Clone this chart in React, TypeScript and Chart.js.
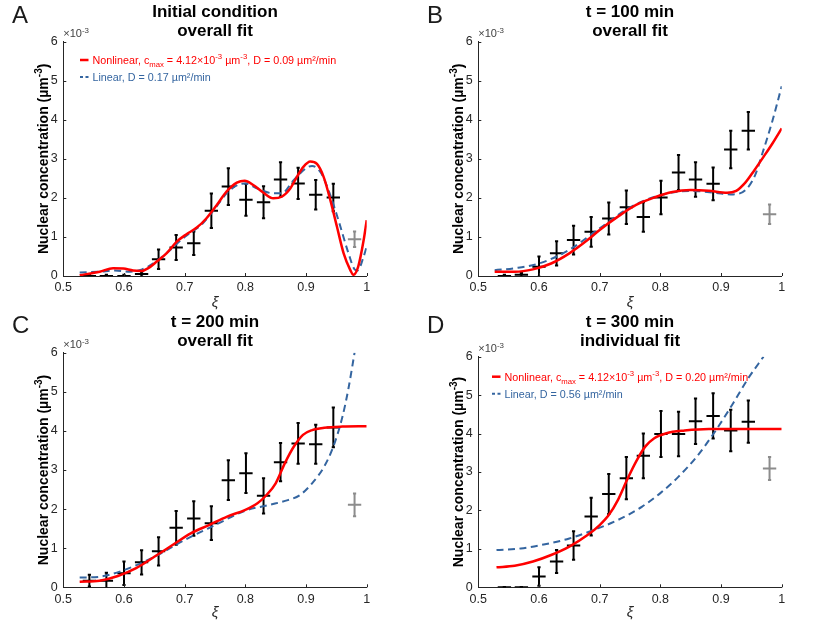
import React, { useEffect, useRef } from 'react';
import { Chart, registerables } from 'chart.js';

Chart.register(...registerables);

// positions of the binned data (xi) shared by all panels
const xiCenters = [0.543, 0.571, 0.6, 0.629, 0.657, 0.686, 0.715, 0.744, 0.772, 0.801, 0.83, 0.858, 0.887, 0.916, 0.945];
const xiExcluded = 0.98;
const xiHalfWidth = 0.011;

const xTicks = [0.5, 0.6, 0.7, 0.8, 0.9, 1];
const yTicks = [0, 1, 2, 3, 4, 5, 6];

// A: initial condition (values in units of 1e-3 um^-3)
const meanA = [0, 0, 0, 0.05, 0.43, 0.73, 0.84, 1.67, 2.29, 1.95, 1.89, 2.47, 2.37, 2.08, 2.01];
const errA = [0.03, 0.03, 0.03, 0.06, 0.25, 0.32, 0.3, 0.44, 0.47, 0.41, 0.41, 0.44, 0.4, 0.38, 0.35];
const excludedA = 0.94;
const excludedErrA = 0.2;
const nonlinXA = [0.527, 0.56, 0.582, 0.599, 0.615, 0.629, 0.64, 0.654, 0.67, 0.687, 0.703, 0.72, 0.736, 0.753, 0.769, 0.786, 0.799, 0.813, 0.83, 0.846, 0.86, 0.874, 0.885, 0.896, 0.907, 0.918, 0.929, 0.94, 0.951, 0.962, 0.973, 0.978, 0.986, 0.995, 1];
const nonlinYA = [0.02, 0.11, 0.2, 0.19, 0.14, 0.13, 0.2, 0.37, 0.58, 0.88, 1.07, 1.24, 1.48, 1.82, 2.16, 2.39, 2.44, 2.33, 2.13, 1.99, 2.03, 2.24, 2.54, 2.8, 2.93, 2.87, 2.54, 1.95, 1.26, 0.58, 0.15, 0.03, 0.24, 0.92, 1.43];
const linXA = [0.527, 0.56, 0.585, 0.61, 0.63, 0.65, 0.67, 0.7, 0.73, 0.75, 0.77, 0.79, 0.8, 0.82, 0.845, 0.86, 0.88, 0.9, 0.91, 0.925, 0.94, 0.955, 0.97, 0.98, 0.985, 0.995, 1];
const linYA = [0.09, 0.11, 0.14, 0.11, 0.17, 0.34, 0.58, 1.0, 1.35, 1.73, 2.13, 2.35, 2.37, 2.24, 2.12, 2.12, 2.46, 2.76, 2.82, 2.63, 2.07, 1.35, 0.58, 0.17, 0.14, 0.5, 0.75];

// B: t = 100 min
const meanB = [0, 0.03, 0.24, 0.58, 0.92, 1.13, 1.47, 1.76, 1.51, 2.01, 2.65, 2.47, 2.36, 3.24, 3.72];
const errB = [0.03, 0.05, 0.26, 0.31, 0.37, 0.38, 0.41, 0.43, 0.38, 0.43, 0.45, 0.44, 0.42, 0.48, 0.48];
const excludedB = 1.58;
const excludedErrB = 0.25;
const nonlinXB = [0.527, 0.56, 0.59, 0.62, 0.65, 0.68, 0.7, 0.73, 0.76, 0.79, 0.82, 0.85, 0.88, 0.91, 0.925, 0.94, 0.955, 0.97, 0.985, 1];
const nonlinYB = [0.11, 0.11, 0.17, 0.32, 0.58, 0.92, 1.18, 1.52, 1.82, 2.01, 2.15, 2.2, 2.18, 2.13, 2.18, 2.39, 2.71, 3.05, 3.4, 3.78];
const linXB = [0.527, 0.56, 0.6, 0.65, 0.7, 0.75, 0.8, 0.85, 0.89, 0.92, 0.94, 0.955, 0.97, 0.985, 1];
const linYB = [0.15, 0.2, 0.32, 0.67, 1.22, 1.76, 2.07, 2.18, 2.13, 2.09, 2.2, 2.54, 3.23, 3.99, 4.86];

// C: t = 200 min
const meanC = [0.17, 0.17, 0.36, 0.64, 0.92, 1.52, 1.76, 1.64, 2.74, 2.92, 2.34, 3.2, 3.68, 3.66, 4.09];
const errC = [0.15, 0.2, 0.3, 0.31, 0.36, 0.43, 0.44, 0.43, 0.51, 0.51, 0.45, 0.49, 0.52, 0.5, 0.51];
const excludedC = 2.11;
const excludedErrC = 0.29;
const nonlinXC = [0.527, 0.56, 0.59, 0.62, 0.65, 0.68, 0.71, 0.74, 0.77, 0.8, 0.82, 0.835, 0.85, 0.865, 0.88, 0.895, 0.91, 0.93, 0.96, 1];
const nonlinYC = [0.14, 0.17, 0.29, 0.49, 0.78, 1.08, 1.38, 1.59, 1.81, 1.98, 2.15, 2.36, 2.66, 3.17, 3.6, 3.9, 4.02, 4.08, 4.11, 4.12];
const linXC = [0.527, 0.56, 0.6, 0.65, 0.7, 0.75, 0.8, 0.84, 0.87, 0.89, 0.91, 0.93, 0.945, 0.96, 0.97, 0.98];
const linYC = [0.25, 0.27, 0.44, 0.78, 1.21, 1.59, 1.96, 2.11, 2.23, 2.36, 2.66, 3.09, 3.6, 4.36, 5.09, 6.0];

// D: t = 300 min, individual fit
const meanD = [0, 0, 0.28, 0.67, 1.09, 1.84, 2.43, 2.84, 3.42, 3.99, 3.99, 4.32, 4.46, 4.08, 4.31];
const errD = [0, 0, 0.24, 0.3, 0.37, 0.49, 0.52, 0.55, 0.58, 0.6, 0.58, 0.59, 0.59, 0.54, 0.55];
const excludedD = 3.09;
const excludedErrD = 0.3;
const nonlinXD = [0.53, 0.56, 0.59, 0.62, 0.65, 0.68, 0.7, 0.715, 0.73, 0.745, 0.76, 0.775, 0.79, 0.81, 0.84, 0.88, 1];
const nonlinYD = [0.52, 0.56, 0.67, 0.84, 1.06, 1.36, 1.62, 1.88, 2.27, 2.79, 3.27, 3.66, 3.88, 4.01, 4.08, 4.12, 4.12];
const linXD = [0.53, 0.57, 0.61, 0.65, 0.69, 0.73, 0.77, 0.8, 0.83, 0.86, 0.89, 0.92, 0.945, 0.97];
const linYD = [0.97, 1.01, 1.12, 1.27, 1.49, 1.75, 2.1, 2.45, 2.88, 3.4, 4.05, 4.79, 5.44, 6.0];

const RED = '#ff0000';
const BLUE = '#3465a0';
const GRAY = '#8c8c8c';
const AXIS = '#262626';
const FONT = '"Liberation Sans", Arial, sans-serif';

type Seg = { t: string; k?: 'sup' | 'sub' };

interface LegendSpec {
  x: number; // offset of the line sample from the y axis
  y: number; // offset of the first row from the top of the axes
  nonlin: Seg[];
  lin: Seg[];
}

interface PanelSpec {
  letter: string;
  title: string[];
  px: number;
  py: number;
  w: number;
  h: number;
  left: number;
  right: number;
  top: number;
  bottom: number;
  mean: number[];
  err: number[];
  excluded: number;
  excludedErr: number;
  nonlinX: number[];
  nonlinY: number[];
  linX: number[];
  linY: number[];
  legend?: LegendSpec;
}

function legendText(cmax: string, dNonlin: string, dLin: string) {
  const nonlin: Seg[] = [
    { t: 'Nonlinear, c' },
    { t: 'max', k: 'sub' },
    { t: ' = ' + cmax + '×10' },
    { t: '-3', k: 'sup' },
    { t: ' µm' },
    { t: '-3', k: 'sup' },
    { t: ', D = ' + dNonlin + ' µm²/min' },
  ];
  const lin: Seg[] = [{ t: 'Linear, D = ' + dLin + ' µm²/min' }];
  return { nonlin, lin };
}

function drawRich(ctx: CanvasRenderingContext2D, segs: Seg[], x: number, y: number, size: number, weight = 'normal') {
  let cx = x;
  for (const s of segs) {
    const sz = s.k ? size * 0.72 : size;
    ctx.font = `${weight} ${sz}px ${FONT}`;
    const dy = s.k === 'sup' ? -size * 0.42 : s.k === 'sub' ? size * 0.3 : 0;
    ctx.fillText(s.t, cx, y + dy);
    cx += ctx.measureText(s.t).width;
  }
  return cx - x;
}

function measureRich(ctx: CanvasRenderingContext2D, segs: Seg[], size: number, weight = 'normal') {
  let w = 0;
  for (const s of segs) {
    ctx.font = `${weight} ${s.k ? size * 0.72 : size}px ${FONT}`;
    w += ctx.measureText(s.t).width;
  }
  return w;
}

// error bars as line segments separated by gaps
function verticalBars(xs: number[], ys: number[], es: number[]) {
  const pts: { x: number; y: number | null }[] = [];
  xs.forEach((x, i) => {
    pts.push({ x, y: ys[i] - es[i] }, { x, y: ys[i] + es[i] }, { x, y: null });
  });
  return pts;
}

function horizontalBars(xs: number[], ys: number[]) {
  const pts: { x: number; y: number | null }[] = [];
  xs.forEach((x, i) => {
    pts.push({ x: x - xiHalfWidth, y: ys[i] }, { x: x + xiHalfWidth, y: ys[i] }, { x: x + xiHalfWidth, y: null });
  });
  return pts;
}

function zip(xs: number[], ys: number[]) {
  return xs.map((x, i) => ({ x, y: ys[i] }));
}

const legA = legendText('4.12', '0.09', '0.17');
const legD = legendText('4.12', '0.20', '0.56');

const panels: PanelSpec[] = [
  {
    letter: 'A', title: ['Initial condition', 'overall fit'],
    px: 0, py: 0, w: 415, h: 310, left: 63.3, right: 366.7, top: 41.7, bottom: 276,
    mean: meanA, err: errA, excluded: excludedA, excludedErr: excludedErrA,
    nonlinX: nonlinXA, nonlinY: nonlinYA, linX: linXA, linY: linYA,
    legend: { x: 16.7, y: 18.3, ...legA },
  },
  {
    letter: 'B', title: ['t = 100 min', 'overall fit'],
    px: 415, py: 0, w: 415, h: 310, left: 63.3, right: 366.7, top: 41.7, bottom: 276,
    mean: meanB, err: errB, excluded: excludedB, excludedErr: excludedErrB,
    nonlinX: nonlinXB, nonlinY: nonlinYB, linX: linXB, linY: linYB,
  },
  {
    letter: 'C', title: ['t = 200 min', 'overall fit'],
    px: 0, py: 310, w: 415, h: 313, left: 63.3, right: 366.7, top: 42.7, bottom: 277.3,
    mean: meanC, err: errC, excluded: excludedC, excludedErr: excludedErrC,
    nonlinX: nonlinXC, nonlinY: nonlinYC, linX: linXC, linY: linYC,
  },
  {
    letter: 'D', title: ['t = 300 min', 'individual fit'],
    px: 415, py: 310, w: 415, h: 313, left: 63.3, right: 366.7, top: 46.7, bottom: 277.3,
    mean: meanD, err: errD, excluded: excludedD, excludedErr: excludedErrD,
    nonlinX: nonlinXD, nonlinY: nonlinYD, linX: linXD, linY: linYD,
    legend: { x: 13.7, y: 20, ...legD },
  },
];

function Panel({ spec }: { spec: PanelSpec }) {
  const canvasRef = useRef<HTMLCanvasElement>(null);

  useEffect(() => {
    if (!canvasRef.current) return;
    const ctx = canvasRef.current.getContext('2d');
    if (!ctx) return;

    const decor = {
      id: 'decor',
      afterDraw(chart: Chart) {
        const c = chart.ctx;
        const area = chart.chartArea;
        const xs = chart.scales.x;
        const ys = chart.scales.y;
        const cx = (area.left + area.right) / 2;
        c.save();

        // inward tick marks
        c.strokeStyle = AXIS;
        c.lineWidth = 1;
        c.beginPath();
        xTicks.forEach(v => {
          const p = Math.round(xs.getPixelForValue(v)) + 0.5;
          c.moveTo(p, area.bottom);
          c.lineTo(p, area.bottom - 3);
        });
        yTicks.forEach(v => {
          const p = Math.round(ys.getPixelForValue(v)) + 0.5;
          c.moveTo(area.left, p);
          c.lineTo(area.left + 3, p);
        });
        c.stroke();

        // panel letter
        c.fillStyle = '#1a1a1a';
        c.textAlign = 'left';
        c.textBaseline = 'alphabetic';
        c.font = `normal 24px ${FONT}`;
        c.fillText(spec.letter, 12, 23);

        // title
        c.fillStyle = '#000';
        c.textAlign = 'center';
        c.font = `bold 17px ${FONT}`;
        c.fillText(spec.title[0], cx, 16.5);
        c.fillText(spec.title[1], cx, 35.5);

        // exponent label
        c.textAlign = 'left';
        c.fillStyle = '#404040';
        drawRich(c, [{ t: '×10' }, { t: '-3', k: 'sup' }], area.left, area.top - 4.4, 11);

        // y axis title
        const ySegs: Seg[] = [{ t: 'Nuclear concentration (µm' }, { t: '-3', k: 'sup' }, { t: ')' }];
        c.save();
        c.translate(48, (area.top + area.bottom) / 2);
        c.rotate(-Math.PI / 2);
        c.fillStyle = '#000';
        const yw = measureRich(c, ySegs, 14, 'bold');
        drawRich(c, ySegs, -yw / 2, 0, 14, 'bold');
        c.restore();

        // x axis title
        c.textAlign = 'center';
        c.fillStyle = AXIS;
        c.font = `italic 15px ${FONT}`;
        c.fillText('ξ', cx, 307);

        // legend
        const lg = spec.legend;
        if (lg) {
          c.textAlign = 'left';
          const x0 = area.left + lg.x;
          const y1 = area.top + lg.y;
          const y2 = y1 + 17;
          c.lineWidth = 2.5;
          c.strokeStyle = RED;
          c.beginPath();
          c.moveTo(x0, y1);
          c.lineTo(x0 + 8.5, y1);
          c.stroke();
          c.lineWidth = 2;
          c.strokeStyle = BLUE;
          c.setLineDash([3, 2.5]);
          c.beginPath();
          c.moveTo(x0, y2);
          c.lineTo(x0 + 8.5, y2);
          c.stroke();
          c.setLineDash([]);
          c.fillStyle = RED;
          drawRich(c, lg.nonlin, x0 + 12.5, y1 + 4, 10.75);
          c.fillStyle = BLUE;
          drawRich(c, lg.lin, x0 + 12.5, y2 + 4, 10.75);
        }
        c.restore();
      },
    };

    const tickFont = { family: FONT, size: 12.5 };

    const chart = new Chart(ctx, {
      type: 'scatter',
      data: {
        datasets: [
          {
            data: zip(spec.nonlinX, spec.nonlinY),
            showLine: true,
            borderColor: RED,
            borderWidth: 2.5,
            pointRadius: 0,
            cubicInterpolationMode: 'monotone',
          },
          {
            data: zip(spec.linX, spec.linY),
            showLine: true,
            borderColor: BLUE,
            borderWidth: 2,
            borderDash: [7, 4.5],
            pointRadius: 0,
            cubicInterpolationMode: 'monotone',
          },
          {
            data: horizontalBars(xiCenters, spec.mean),
            showLine: true,
            borderColor: '#000',
            borderWidth: 2,
            pointRadius: 0,
            spanGaps: false,
          },
          {
            data: verticalBars(xiCenters, spec.mean, spec.err),
            showLine: true,
            borderColor: '#000',
            borderWidth: 2,
            pointStyle: 'line',
            pointRadius: 1.6,
            pointBorderWidth: 2,
            pointBorderColor: '#000',
            spanGaps: false,
          },
          {
            data: horizontalBars([xiExcluded], [spec.excluded]),
            showLine: true,
            borderColor: GRAY,
            borderWidth: 2,
            pointRadius: 0,
            spanGaps: false,
          },
          {
            data: verticalBars([xiExcluded], [spec.excluded], [spec.excludedErr]),
            showLine: true,
            borderColor: GRAY,
            borderWidth: 2,
            pointStyle: 'line',
            pointRadius: 1.6,
            pointBorderWidth: 2,
            pointBorderColor: GRAY,
            spanGaps: false,
          },
        ],
      },
      options: {
        animation: false,
        responsive: false,
        maintainAspectRatio: false,
        events: [],
        layout: {
          padding: { top: spec.top, right: spec.w - spec.right, left: 0, bottom: 0 },
        },
        plugins: {
          legend: { display: false },
          tooltip: { enabled: false },
        },
        scales: {
          x: {
            type: 'linear',
            min: 0.5,
            max: 1,
            grid: { display: false, drawTicks: false },
            border: { display: true, color: AXIS, width: 1 },
            ticks: {
              stepSize: 0.1,
              padding: 4.5,
              color: AXIS,
              font: tickFont,
              callback: (v: number | string) => String(Math.round(Number(v) * 10) / 10),
            },
            afterFit: (s: any) => {
              s.height = spec.h - spec.bottom;
              s.paddingLeft = 0;
              s.paddingRight = 0;
            },
          },
          y: {
            type: 'linear',
            min: 0,
            max: 6,
            grid: { display: false, drawTicks: false },
            border: { display: true, color: AXIS, width: 1 },
            ticks: {
              stepSize: 1,
              padding: 5.5,
              color: AXIS,
              font: tickFont,
            },
            afterFit: (s: any) => {
              s.width = spec.left;
              s.paddingTop = 0;
              s.paddingBottom = 0;
            },
          },
        },
      },
      plugins: [decor],
    });

    return () => {
      chart.destroy();
    };
  }, [spec]);

  return (
    <canvas
      ref={canvasRef}
      width={spec.w}
      height={spec.h}
      style={{ position: 'absolute', left: spec.px, top: spec.py, width: spec.w, height: spec.h }}
    />
  );
}

export default function App() {
  return (
    <div style={{ position: 'absolute', left: 0, top: 0, width: 830, height: 623, background: '#fff', overflow: 'hidden' }}>
      {panels.map(p => (
        <Panel key={p.letter} spec={p} />
      ))}
    </div>
  );
}
